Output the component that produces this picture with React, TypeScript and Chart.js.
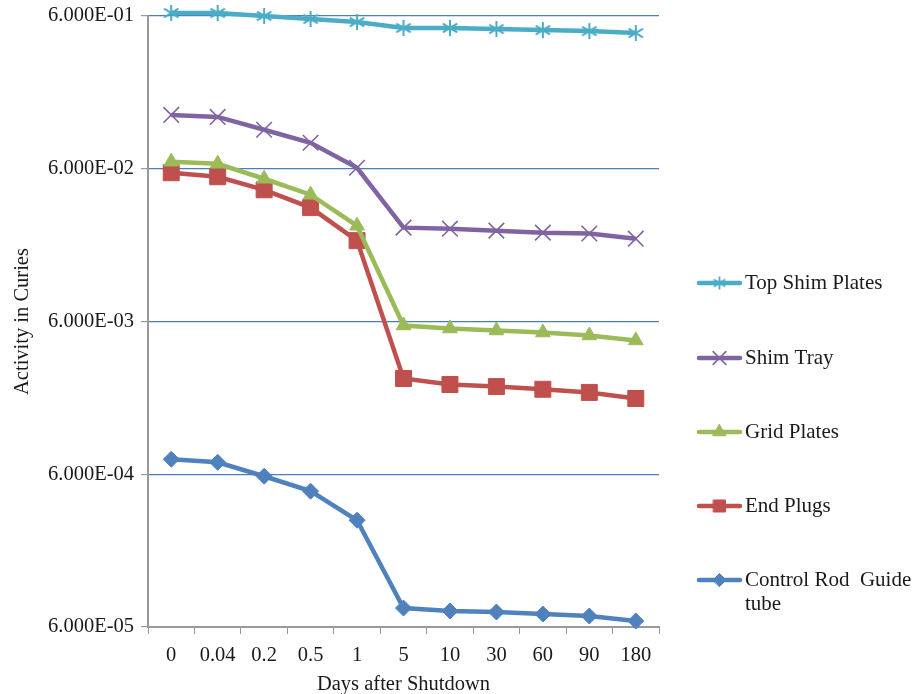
import React, { useEffect, useRef } from "react";
import { Chart, registerables } from "chart.js";
import { drawPoint } from "chart.js/helpers";

Chart.register(...registerables);

const categories = ["0", "0.04", "0.2", "0.5", "1", "5", "10", "30", "60", "90", "180"];
const topShimPlates = [0.628, 0.628, 0.6, 0.574, 0.548, 0.501, 0.501, 0.493, 0.485, 0.478, 0.464];
const shimTray = [0.135, 0.131, 0.108, 0.0888, 0.0609, 0.0247, 0.0243, 0.0236, 0.0229, 0.0226, 0.0209];
const gridPlates = [0.0667, 0.0647, 0.0516, 0.0406, 0.0254, 0.00565, 0.0054, 0.00524, 0.00508, 0.00486, 0.00451];
const endPlugs = [0.0565, 0.0532, 0.0437, 0.0334, 0.0203, 0.00254, 0.00232, 0.00225, 0.00216, 0.00206, 0.00188];
const controlRod = [0.000752, 0.000718, 0.000582, 0.000465, 0.0003, 0.0000798, 0.0000764, 0.0000752, 0.0000729, 0.0000708, 0.0000657];
const yTicks = [6e-5, 6e-4, 6e-3, 6e-2, 6e-1];

const FONT = "'Liberation Serif', 'Times New Roman', serif";

function asterisk(color: string, size: number, lw: number) {
  const c = document.createElement("canvas");
  c.width = size;
  c.height = size;
  const ctx = c.getContext("2d")!;
  const m = size / 2;
  const r = size / 2 - 1;
  ctx.strokeStyle = color;
  ctx.lineWidth = lw;
  ctx.beginPath();
  ctx.moveTo(m, m - r);
  ctx.lineTo(m, m + r);
  const d = r * 0.9;
  ctx.moveTo(m - d, m - d * 0.6);
  ctx.lineTo(m + d, m + d * 0.6);
  ctx.moveTo(m - d, m + d * 0.6);
  ctx.lineTo(m + d, m - d * 0.6);
  ctx.stroke();
  return c;
}

const seriesDefs = [
  { label: "Top Shim Plates", data: topShimPlates, color: "#4bacc6", style: "asterisk", r: 8, lr: 7 },
  { label: "Shim Tray", data: shimTray, color: "#8064a2", style: "crossRot", r: 11, lr: 9 },
  { label: "Grid Plates", data: gridPlates, color: "#9bbb59", style: "triangle", r: 8.5, lr: 7.5 },
  { label: "End Plugs", data: endPlugs, color: "#c0504d", style: "rect", r: 11.3, lr: 8.5 },
  { label: "Control Rod  Guide tube", data: controlRod, color: "#4f81bd", style: "rectRot", r: 8, lr: 6.5 },
];

const legendLines = [["Top Shim Plates"], ["Shim Tray"], ["Grid Plates"], ["End Plugs"], ["Control Rod  Guide", "tube"]];
const legendY = [283, 358, 432, 506, 580];

export default function App() {
  const ref = useRef<HTMLCanvasElement>(null);
  useEffect(() => {
    document.body.style.margin = "0";
    const plotStar = asterisk("#4bacc6", 18, 2);
    const legStar = asterisk("#4bacc6", 15, 1.8);
    const legendPlugin = {
      id: "sideLegend",
      afterDraw(chart: any) {
        const ctx = chart.ctx;
        ctx.save();
        seriesDefs.forEach((s, i) => {
          const y = legendY[i];
          ctx.strokeStyle = s.color;
          ctx.lineWidth = 4.5;
          ctx.lineCap = "round";
          ctx.beginPath();
          ctx.moveTo(699, y);
          ctx.lineTo(740, y);
          ctx.stroke();
          ctx.fillStyle = s.color;
          ctx.strokeStyle = s.color;
          const bw = s.style === "crossRot" ? 1.6 : 1;
          ctx.lineWidth = bw;
          const ps: any = s.style === "asterisk" ? legStar : s.style;
          drawPoint(ctx, { pointStyle: ps, radius: s.lr, rotation: 0, borderWidth: bw } as any, 719.5, y);
          ctx.fillStyle = "#1a1a1a";
          ctx.font = `21px ${FONT}`;
          ctx.textBaseline = "middle";
          ctx.textAlign = "left";
          legendLines[i].forEach((t, j) => ctx.fillText(t, 745, y + j * 24));
        });
        ctx.restore();
      },
    };
    const chart = new Chart(ref.current!, {
      type: "line",
      data: {
        labels: categories,
        datasets: seriesDefs.map((s) => ({
          label: s.label,
          data: s.data,
          borderColor: s.color,
          backgroundColor: s.color,
          pointStyle: (s.style === "asterisk" ? plotStar : s.style) as any,
          pointRadius: s.r,
          pointBorderWidth: s.style === "crossRot" ? 1.6 : 1,
          borderWidth: 4.5,
          tension: 0,
          clip: false as any,
        })),
      },
      options: {
        animation: false,
        responsive: false,
        layout: { padding: { top: 16, right: 255, left: 0, bottom: 0 } },
        plugins: { legend: { display: false }, tooltip: { enabled: false } },
        scales: {
          x: {
            type: "category",
            offset: true,
            afterFit: (axis: any) => {
              axis.height = 67;
            },
            grid: { display: true, drawOnChartArea: false, drawTicks: true, tickLength: 7, color: "#999", offset: true },
            border: { display: true, color: "#999", width: 2 },
            ticks: { color: "#1a1a1a", font: { family: FONT, size: 20.5 }, padding: 9 },
            title: { display: true, text: "Days after Shutdown", color: "#1a1a1a", font: { family: FONT, size: 20.5 }, padding: { top: 0, bottom: -3 } },
          },
          y: {
            type: "logarithmic",
            min: 6e-5,
            max: 6e-1,
            afterBuildTicks: (axis: any) => {
              axis.ticks = yTicks.map((v) => ({ value: v }));
            },
            afterFit: (axis: any) => {
              axis.width = 148;
              axis.paddingTop = 0;
              axis.paddingBottom = 0;
            },
            grid: { color: "#4a7ebb", lineWidth: 1.2, drawTicks: true, tickLength: 7, tickColor: "#999" },
            border: { display: true, color: "#999", width: 2 },
            ticks: {
              color: "#1a1a1a",
              font: { family: FONT, size: 20.5 },
              padding: 7,
              callback: (v: any) => {
                const n = Number(v);
                const e = Math.floor(Math.log10(n) + 1e-9);
                const m = n / Math.pow(10, e);
                const es = e < 0 ? "-" + String(-e).padStart(2, "0") : "+" + String(e).padStart(2, "0");
                return m.toFixed(3) + "E" + es;
              },
            },
            title: { display: true, text: "Activity in Curies", color: "#1a1a1a", font: { family: FONT, size: 20.5 }, padding: { top: 10, bottom: 4 } },
          },
        },
      },
      plugins: [legendPlugin],
    });
    return () => chart.destroy();
  }, []);
  return <canvas ref={ref} width={914} height={694} style={{ display: "block" }} />;
}
